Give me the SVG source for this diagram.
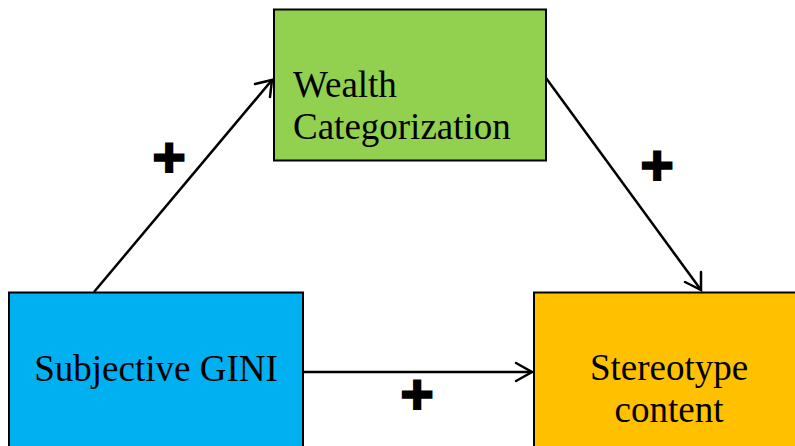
<svg xmlns="http://www.w3.org/2000/svg" width="795" height="446" viewBox="0 0 795 446">
<style>
.box{stroke:#000;stroke-width:2}
.lbl{font-family:"Liberation Serif","Times New Roman",serif;font-size:37px;fill:#000}
.conn{stroke:#000;stroke-width:2.5;fill:none}
.head{stroke:#000;stroke-width:2.5;fill:none;stroke-linecap:round}
.plus{font-family:"DejaVu Sans",sans-serif;font-size:42px;fill:#000;text-anchor:middle;dominant-baseline:central}
</style>
<rect width="795" height="446" fill="#fff"/>
<g id="wealth">
<rect class="box" x="274" y="9.5" width="272" height="151" fill="#92D050"/>
<text class="lbl" x="293" y="97">Wealth</text>
<text class="lbl" x="293" y="138.5">Categorization</text>
</g>
<g id="gini">
<rect class="box" x="9" y="292.5" width="294" height="170" fill="#00B0F0"/>
<text class="lbl" x="156" y="381" text-anchor="middle">Subjective GINI</text>
</g>
<g id="stereotype">
<rect class="box" x="534" y="292.5" width="280" height="170" fill="#FFC000"/>
<text class="lbl" x="669" y="380" text-anchor="middle">Stereotype</text>
<text class="lbl" x="669" y="421.5" text-anchor="middle">content</text>
</g>
<g id="connectors">
<line class="conn" x1="94" y1="292" x2="272" y2="80"/>
<polyline class="head" points="255,84 272,80 270,97"/>
<line class="conn" x1="546" y1="78" x2="701" y2="290"/>
<polyline class="head" points="685,282 701,290 701,272"/>
<line class="conn" x1="303" y1="372" x2="532" y2="372"/>
<polyline class="head" points="516,363 532,372 516,381"/>
</g>
<g id="signs">
<text class="plus" x="169" y="158">✚</text>
<text class="plus" x="657" y="166">✚</text>
<text class="plus" x="417" y="395">✚</text>
</g>
</svg>
